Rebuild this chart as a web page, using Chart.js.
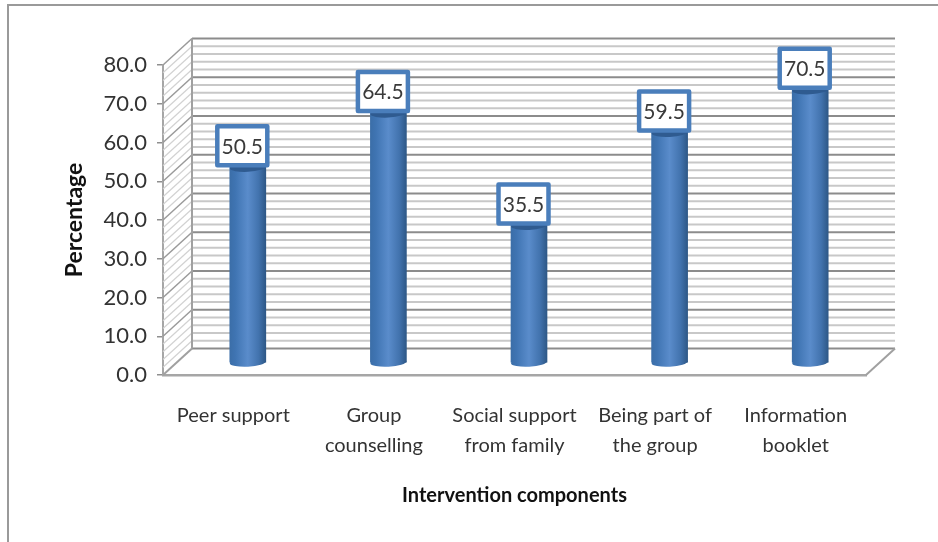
<!DOCTYPE html>
<html><head><meta charset="utf-8">
<style>html,body{margin:0;padding:0;background:#fff}#w{position:relative;width:938px;height:542px;overflow:hidden}canvas{display:block;filter:blur(0.6px)}</style>
<script src="https://cdn.jsdelivr.net/npm/chart.js@4"></script>
</head><body><div id="w"><canvas id="c" width="938" height="542"></canvas></div>
<script>
const categories = [["Peer support"],["Group","counselling"],["Social support","from family"],["Being part of","the group"],["Information","booklet"]];
const values = [50.5,64.5,35.5,59.5,70.5];
const yMin = 0, yMax = 80, yMajorStep = 10, yMinorStep = 2;
const xTitle = "Intervention components", yTitle = "Percentage";
const FONT = "Lato, Carlito, 'Noto Sans', sans-serif";
const wallDx = 29, wallDy = -26.5, barDx = 14.5, barDy = -12, barW = 36;

const scene = {
  id:'scene',
  beforeDraw(chart){
    const c = chart.ctx;
    c.save();
    c.strokeStyle='#9a9a9a'; c.lineWidth=2;
    c.beginPath(); c.moveTo(8,542); c.lineTo(8,5); c.lineTo(938,5); c.stroke();
    c.restore();
  },
  beforeDatasetsDraw(chart){
    const c = chart.ctx, y = chart.scales.y, a = chart.chartArea;
    c.save();
    for (let v = yMin; v <= yMax; v += yMinorStep){
      const major = v % yMajorStep === 0, p = y.getPixelForValue(v);
      c.strokeStyle = major ? '#8c8c8c' : '#c8c8c8';
      c.lineWidth = major ? 2 : 2;
      c.beginPath();
      c.moveTo(a.left+wallDx, p+wallDy); c.lineTo(a.right+wallDx, p+wallDy); c.stroke();
      if (v>yMin){
        c.strokeStyle = major ? '#9a9a9a' : '#d2d2d2';
        c.lineWidth = major ? 1.5 : 1.2;
        c.beginPath(); c.moveTo(a.left,p); c.lineTo(a.left+wallDx,p+wallDy); c.stroke();
      }
    }
    const b = y.getPixelForValue(yMin);
    c.strokeStyle='#a0a0a0'; c.lineWidth=2;
    c.beginPath(); c.moveTo(a.left,b); c.lineTo(a.left+wallDx,b+wallDy); c.stroke();
    c.beginPath(); c.moveTo(a.right,b); c.lineTo(a.right+wallDx,b+wallDy); c.stroke();
    c.beginPath(); c.moveTo(a.left+wallDx,y.getPixelForValue(yMax)+wallDy);c.lineTo(a.left+wallDx,b+wallDy);c.stroke();
    c.restore();
    c.save();
    c.translate(barDx,barDy);
    chart.getDatasetMeta(0).data.forEach(el=>{
      c.fillStyle = barGradient(c, el.x);
      c.beginPath();
      c.ellipse(el.x, el.base, barW/2, 4.5, -0.05, 0, Math.PI*2);
      c.fill();
    });
  },
  afterDatasetsDraw(chart){
    const c = chart.ctx;
    const els = chart.getDatasetMeta(0).data;
    els.forEach(el=>{
      c.fillStyle='#2f5b90';
      c.beginPath(); c.ellipse(el.x, el.y, barW/2, 4.5, -0.05, 0, Math.PI*2); c.fill();
    });
    c.restore();
    els.forEach((el,i)=>{
      const w=54, h=43, x=el.x+barDx-5.5-w/2, yb=el.y+barDy, yt=yb-h;
      c.save();
      c.fillStyle='#fff'; c.strokeStyle='#4a7ebb'; c.lineWidth=4.5; c.lineJoin='round';
      c.beginPath(); c.rect(x+2,yt+2,w-4,h-4); c.fill(); c.stroke();
      c.fillStyle='#3a3a3a'; c.font='21px '+FONT; c.textAlign='center'; c.textBaseline='middle';
      c.fillText(values[i].toFixed(1), x+w/2, yt+h/2+1);
      c.restore();
    });
  }
};
function barGradient(c, cx){
  const g = c.createLinearGradient(cx-barW/2,0,cx+barW/2,0);
  g.addColorStop(0,'#3b6ea8'); g.addColorStop(0.15,'#3f74b2');
  g.addColorStop(0.5,'#5a8ccb'); g.addColorStop(0.8,'#4273ae');
  g.addColorStop(1,'#2e5887');
  return g;
}
new Chart(document.getElementById('c'),{
  type:'bar',
  data:{labels:categories,datasets:[{data:values,barThickness:barW,clip:false,borderWidth:0,
    backgroundColor(ctx){
      const ch=ctx.chart;
      if(!ch.chartArea||ctx.dataIndex===undefined) return '#4a7ebb';
      return barGradient(ch.ctx, ch.scales.x.getPixelForValue(ctx.dataIndex));
    }}]},
  options:{
    responsive:false,animation:false,
    layout:{padding:{left:0,right:72,top:65,bottom:0}},
    plugins:{legend:{display:false},tooltip:{enabled:false},title:{display:false}},
    scales:{
      x:{
        afterFit(s){s.height=167;},
        grid:{display:false,drawTicks:false},
        border:{display:true,color:'#a6a6a6',width:2.5},
        ticks:{color:'#333',font:{family:FONT,size:20,lineHeight:1.5},padding:26,maxRotation:0,autoSkip:false},
        title:{display:true,text:xTitle,color:'#111',font:{family:FONT,size:20,weight:'bold'},padding:{top:0,bottom:34}}
      },
      y:{
        min:yMin,max:yMax,
        afterFit(s){s.width=163;},
        grid:{drawOnChartArea:false,drawTicks:true,tickLength:6,color:'#8f8f8f',lineWidth:1.5},
        border:{display:true,color:'#a6a6a6',width:2},
        ticks:{stepSize:yMajorStep,color:'#333',font:{family:FONT,size:22},padding:10,callback:v=>v.toFixed(1)},
        title:{display:true,text:yTitle,color:'#111',font:{family:FONT,size:23,weight:'bold'},padding:{top:61,bottom:0}}
      }
    }
  },
  plugins:[scene]
});
</script></body></html>
